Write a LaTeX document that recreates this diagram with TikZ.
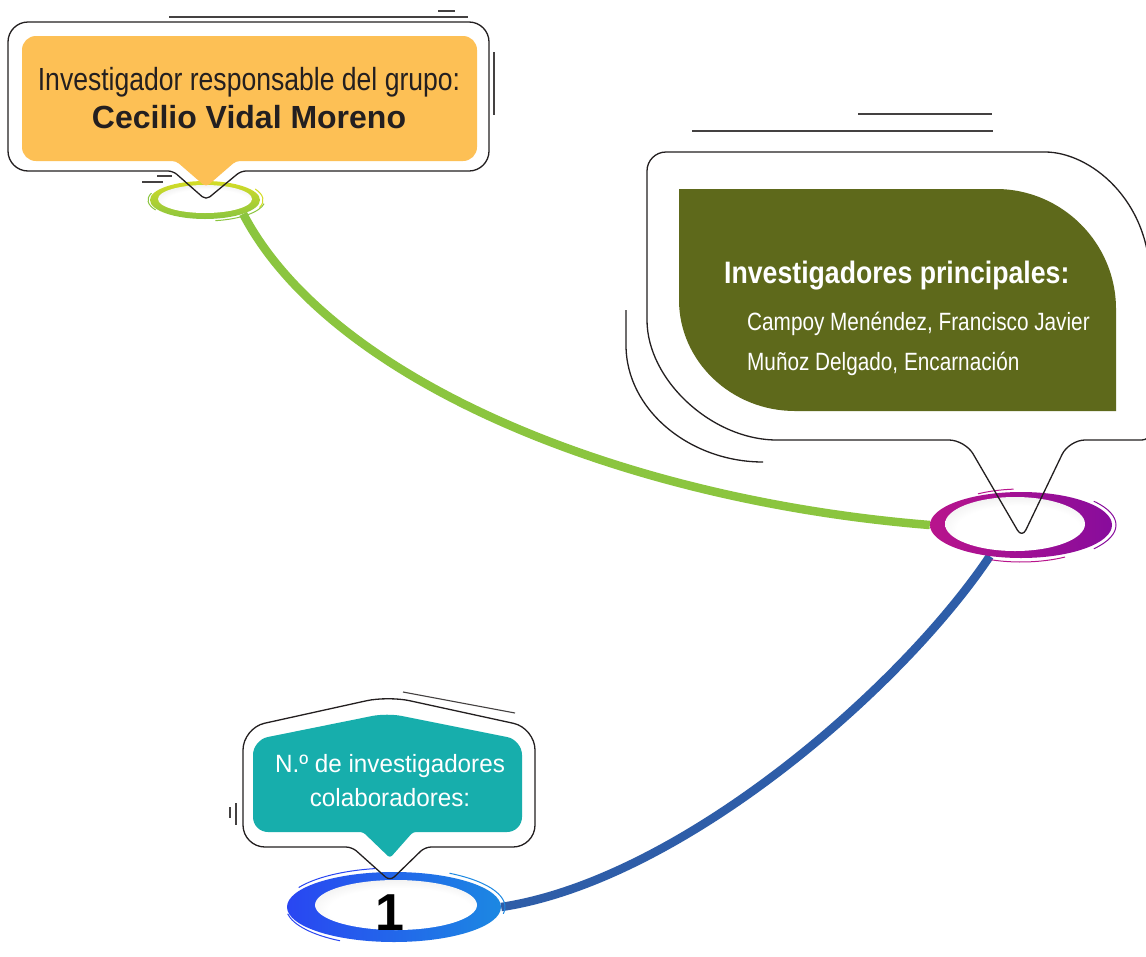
\documentclass[tikz,border=0pt]{standalone}
\usepackage{fontspec}
\setmainfont{Liberation Sans}
\newfontfamily\narrowfont[FakeStretch=0.83]{Liberation Sans}
\newfontfamily\headfont[FakeStretch=0.86]{Liberation Sans}
\newfontfamily\colabfont[FakeStretch=0.97]{Liberation Sans}
\usepackage{tikz}
\usetikzlibrary{positioning}
\usetikzlibrary{shapes.geometric}
\usetikzlibrary{backgrounds}

\definecolor{bubbleorange}{HTML}{FDC055}
\definecolor{bubbleolive}{HTML}{5E691B}
\definecolor{bubbleteal}{HTML}{17AEAC}
\definecolor{inkline}{HTML}{231F20}
\definecolor{limegreen}{HTML}{D4DC26}
\definecolor{leafgreen}{HTML}{8BC53F}
\definecolor{ringmagenta}{HTML}{B8148C}
\definecolor{ringpurple}{HTML}{880C9C}
\definecolor{ringblue}{HTML}{2946F2}
\definecolor{ringsky}{HTML}{1C88E2}
\definecolor{linkblue}{HTML}{2E5DA8}

\pgfdeclareradialshading{cupshade}{\pgfpoint{2bp}{-9bp}}{color(0bp)=(white); color(22bp)=(white); color(36bp)=(black!10); color(46bp)=(black!35); color(50bp)=(black!55)}

\begin{document}
\begin{tikzpicture}[x=1pt, y=-1pt,
ringnode1/.style={ellipse, inner sep=0, minimum width=110, minimum height=38, top color=limegreen, bottom color=leafgreen},
ringnode2/.style={ellipse, inner sep=0, minimum width=182, minimum height=66, left color=ringmagenta, right color=ringpurple},
ringnode3/.style={ellipse, inner sep=0, minimum width=214, minimum height=70, left color=ringblue, right color=ringsky},
cupnode/.style={ellipse, inner sep=0, shade, shading=cupshade},
textnode/.style={inner sep=0},
bubbleline/.style={draw=inkline, line width=1.3pt, line join=round},
decoline/.style={draw=inkline!85, line width=1.1pt},
brush/.style={line width=1pt},
link/.style={line width=8.5pt},
]
\useasboundingbox (0,0) rectangle (1146,956);

%Nodes
\node[ringnode1]                                    (gring)   at (205,200) {};
\node[cupnode, minimum width=94, minimum height=28]  (gcup)    at (205,199) {};
\node[ringnode2]                                    (mring)   at (1021,525) {};
\node[cupnode, minimum width=140, minimum height=54] (mcup)    at (1015,524) {};
\node[ringnode3]                                    (bring)   at (394,907) {};
\node[cupnode, minimum width=162, minimum height=50] (bcup)    at (396,905) {};
\node[textnode, font=\fontsize{52}{52}\selectfont\bfseries, anchor=base] (count) at (390,930) {1};

%Brush strokes
\draw[brush, leafgreen] (gring.center) ++(10:60 and 21) arc[start angle=10, end angle=80, x radius=60, y radius=21];
\draw[brush, limegreen] (gring.center) ++(-30:58 and 22) arc[start angle=-30, end angle=20, x radius=58, y radius=22];
\draw[brush, leafgreen] (gring.center) ++(150:57 and 20) arc[start angle=150, end angle=200, x radius=57, y radius=20];
\draw[brush, ringpurple] (mring.center) ++(-40:95 and 37) arc[start angle=-40, end angle=40, x radius=95, y radius=37];
\draw[brush, ringmagenta] (mring.center) ++(60:88 and 37) arc[start angle=60, end angle=110, x radius=88, y radius=37];
\draw[brush, ringmagenta] (mring.center) ++(-120:86 and 36) arc[start angle=-120, end angle=-95, x radius=86, y radius=36];
\draw[brush, ringblue] (bring.center) ++(-150:110 and 39) arc[start angle=-150, end angle=-100, x radius=110, y radius=39];
\draw[brush, ringsky] (bring.center) ++(-60:111 and 39) arc[start angle=-60, end angle=10, x radius=111, y radius=39];
\draw[brush, ringblue] (bring.center) ++(120:108 and 39) arc[start angle=120, end angle=170, x radius=108, y radius=39];

%Lines
\begin{pgfonlayer}{background}
\fill[white] (0,0) rectangle (1146,956);
\draw[link, leafgreen] (gring.-20) .. controls (330,380) and (620,500) .. (mring.west);
\draw[link, linkblue] (mring.-135) .. controls (900,690) and (680,880) .. (bring.east);
\end{pgfonlayer}

%Bubble 1
\fill[bubbleorange] (206,187) [rounded corners=4] -- (176,161) [rounded corners=14] -- (22,161) -- (22,36) -- (477,36) -- (477,161) [rounded corners=4] -- (236,161) -- cycle;
\draw[bubbleline] (206,200) [rounded corners=5] -- (173,171) [rounded corners=20] -- (8,171) -- (8,22) -- (489,22) -- (489,171) [rounded corners=5] -- (241,171) -- cycle;
\draw[decoline] (169,17) -- (468,17);
\draw[decoline] (438,11) -- (455,11);
\draw[decoline] (494,52) -- (494,115);
\draw[decoline] (142,182) -- (163,182);
\draw[decoline] (157,176) -- (172,176);
\node[textnode, font=\narrowfont\fontsize{32}{32}\selectfont, text=inkline, anchor=base] (lead) at (249,90) {Investigador responsable del grupo:};
\node[textnode, font=\fontsize{32}{32}\selectfont\bfseries, text=inkline, anchor=base] (leadname) at (249,128) {Cecilio Vidal Moreno};

%Bubble 2
\fill[bubbleolive] (679,189) -- (996,189) .. controls (1062,189) and (1116,243) .. (1116,309) -- (1116,411) -- (795,411) .. controls (731,411) and (679,361) .. (679,300) -- cycle;
\draw[bubbleline] (647,320) [rounded corners=19] -- (647,152) -- (1026,152) [sharp corners] .. controls (1090,152) and (1150,200) .. (1150,280) [rounded corners=8] -- (1150,440) [rounded corners=16] -- (1069,440) [rounded corners=9] -- (1022,538) [rounded corners=16] -- (965,440) [sharp corners] -- (777,440) .. controls (712,440) and (647,380) .. (647,320);
\draw[bubbleline] (626,310) -- (626,345) .. controls (626,410) and (690,462) .. (763,462);
\draw[decoline] (858,114) -- (992,114);
\draw[decoline] (692,131) -- (993,131);
\node[textnode, font=\headfont\fontsize{31}{31}\selectfont\bfseries, text=white, anchor=base west] (mainhead) at (724,283) {Investigadores principales:};
\node[textnode, font=\narrowfont\fontsize{25}{25}\selectfont, text=white, anchor=base west] (main1) at (747,330) {Campoy Menéndez, Francisco Javier};
\node[textnode, font=\narrowfont\fontsize{25}{25}\selectfont, text=white, anchor=base west] (main2) at (747,370) {Muñoz Delgado, Encarnación};

%Bubble 3
\fill[bubbleteal] (390,858) [rounded corners=3] -- (363,832) [rounded corners=15] -- (253,832) -- (253,740) -- (387,713) -- (522,740) -- (522,832) [rounded corners=3] -- (413,832) -- cycle;
\draw[bubbleline] (390,881) [rounded corners=6] -- (352,847) [rounded corners=22] -- (243,847) -- (243,728) -- (388,696) -- (535,728) -- (535,847) [rounded corners=6] -- (425,847) -- cycle;
\draw[decoline] (403,692) -- (515,713);
\draw[decoline] (230,807) -- (230,818);
\draw[decoline] (236,803) -- (236,825);
\node[textnode, font=\colabfont\fontsize{25}{25}\selectfont, text=white, anchor=base] (colab1) at (390,772) {N.º de investigadores};
\node[textnode, font=\colabfont\fontsize{25}{25}\selectfont, text=white, anchor=base] (colab2) at (390,806) {colaboradores:};
\end{tikzpicture}
\end{document}
